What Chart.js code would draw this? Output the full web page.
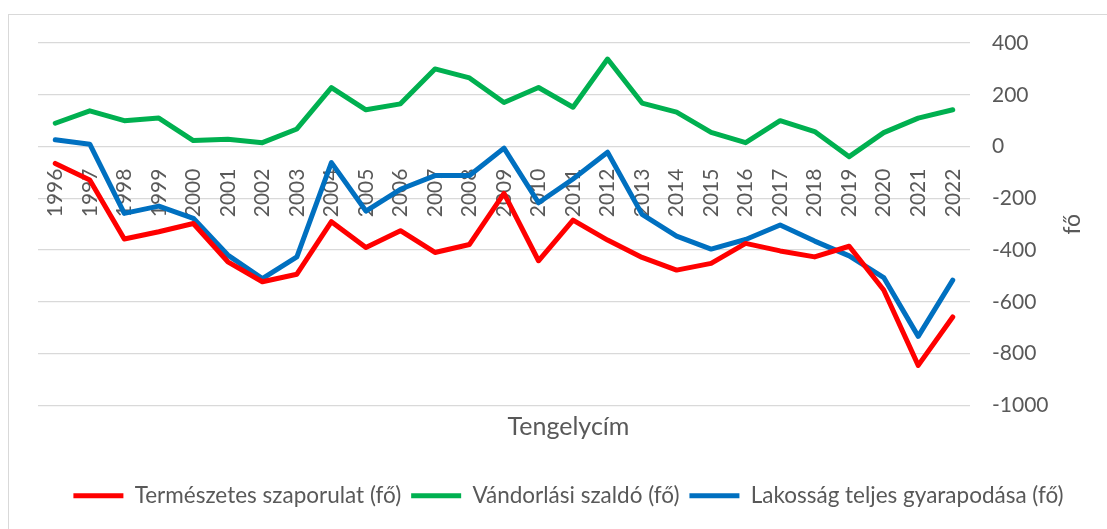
<!DOCTYPE html>
<html>
<head>
<meta charset="utf-8">
<script src="https://cdn.jsdelivr.net/npm/chart.js@4.4.1/dist/chart.umd.min.js"></script>
<style>
  html, body { margin: 0; padding: 0; background: #fff; }
  #wrap { position: relative; width: 1107px; height: 529px; overflow: hidden; }
  #frame { position: absolute; left: 8px; top: 14px; width: 1200px; height: 600px; border: 1px solid #d9d9d9; }
  canvas { position: absolute; left: 0; top: 0; }
</style>
</head>
<body>
<div id="wrap">
  <div id="frame"></div>
  <canvas id="chart" width="1107" height="529"></canvas>
</div>
<script>
const years = ["1996", "1997", "1998", "1999", "2000", "2001", "2002", "2003", "2004", "2005",
  "2006", "2007", "2008", "2009", "2010", "2011", "2012", "2013", "2014", "2015",
  "2016", "2017", "2018", "2019", "2020", "2021", "2022"];

const termeszetes = [-65, -129, -357, -329, -297, -445, -522, -493, -290, -390,
  -325, -409, -378, -181, -441, -284, -361, -428, -477, -451,
  -374, -403, -426, -385, -554, -845, -658];

const vandorlasi = [90, 138, 100, 110, 23, 28, 15, 68, 228, 142,
  165, 300, 265, 170, 228, 152, 338, 168, 133, 55,
  15, 100, 58, -39, 54, 110, 142];

const lakossag = [26, 9, -258, -230, -277, -419, -510, -426, -62, -249,
  -165, -112, -112, -6, -217, -125, -22, -262, -346, -396,
  -359, -303, -365, -422, -506, -733, -516];

const seriesNames = ["Természetes szaporulat (fő)", "Vándorlási szaldó (fő)", "Lakosság teljes gyarapodása (fő)"];
const seriesColors = ["#ff0000", "#00b050", "#0070c0"];

const yMin = -1000;
const yMax = 400;
const yStep = 200;

const textColor = "#595959";
const fontFamily = "Lato, 'Open Sans', sans-serif";

// draws the rotated right axis title "fő"
const sideTitle = {
  id: "sideTitle",
  afterDraw(chart) {
    const ctx = chart.ctx;
    ctx.save();
    ctx.fillStyle = textColor;
    ctx.font = "23px " + fontFamily;
    ctx.textAlign = "center";
    ctx.textBaseline = "middle";
    ctx.translate(1073, (chart.chartArea.top + chart.chartArea.bottom) / 2);
    ctx.rotate(-Math.PI / 2);
    ctx.fillText("fő", 0, 0);
    ctx.restore();
  }
};

const makeDataset = (label, data, color) => ({
  label: label,
  data: data,
  borderColor: color,
  backgroundColor: color,
  borderWidth: 5,
  borderCapStyle: "round",
  borderJoinStyle: "round",
  pointRadius: 0,
  pointHoverRadius: 0,
  tension: 0,
  fill: false
});

new Chart(document.getElementById("chart"), {
  type: "line",
  data: {
    labels: years,
    datasets: [
      makeDataset(seriesNames[0], termeszetes, seriesColors[0]),
      makeDataset(seriesNames[1], vandorlasi, seriesColors[1]),
      makeDataset(seriesNames[2], lakossag, seriesColors[2])
    ]
  },
  options: {
    responsive: false,
    animation: false,
    layout: {
      padding: { left: 38, right: 8, top: 43, bottom: 12 }
    },
    scales: {
      x: {
        type: "category",
        position: { y: 0 },
        offset: true,
        grid: { display: false },
        border: { display: false },
        ticks: {
          autoSkip: false,
          minRotation: 90,
          maxRotation: 90,
          padding: 14,
          color: textColor,
          font: { family: fontFamily, size: 21 }
        }
      },
      y: {
        position: "right",
        min: yMin,
        max: yMax,
        grid: { color: "#d9d9d9", lineWidth: 1.3, drawTicks: false },
        border: { display: false },
        ticks: {
          stepSize: yStep,
          padding: 22,
          color: textColor,
          font: { family: fontFamily, size: 21 },
          callback: (value) => String(value)
        },
        afterFit: (scale) => { scale.width = 129; }
      }
    },
    plugins: {
      title: {
        display: true,
        text: "Tengelycím",
        position: "bottom",
        weight: 500,
        color: textColor,
        font: { family: fontFamily, size: 25, weight: "normal" },
        padding: { top: 6, bottom: 33 }
      },
      legend: {
        position: "bottom",
        labels: {
          usePointStyle: true,
          pointStyle: "line",
          pointStyleWidth: 50,
          padding: 10,
          color: textColor,
          font: { family: fontFamily, size: 22.5 }
        }
      },
      tooltip: { enabled: false }
    }
  },
  plugins: [sideTitle]
});
</script>
</body>
</html>
